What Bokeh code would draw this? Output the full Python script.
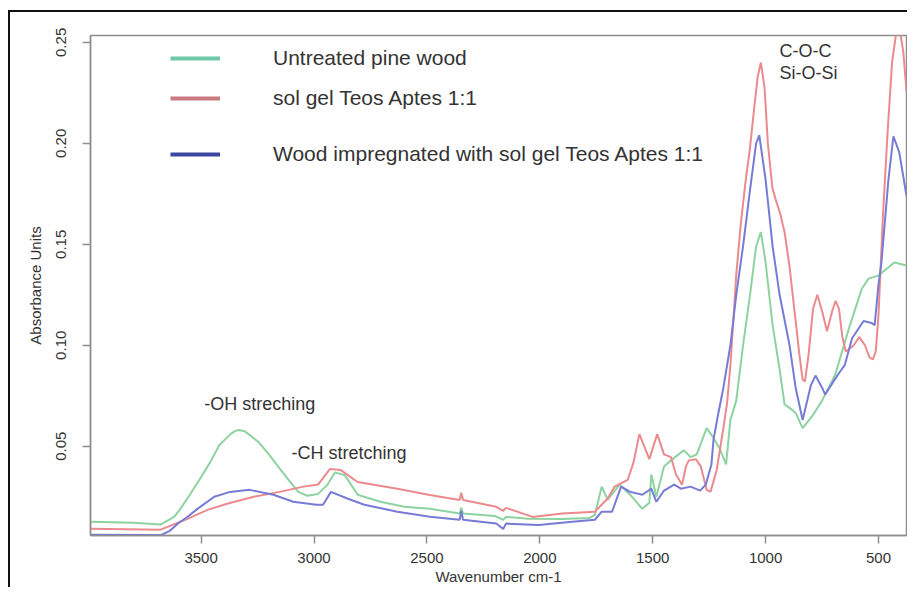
from bokeh.plotting import figure
from bokeh.models import (Range1d, Label, Legend, LegendItem,
                          FixedTicker, ColumnDataSource, InlineStyleSheet)
from bokeh.embed import file_html
from bokeh.resources import INLINE

# ---------------- data ----------------
green_wn = [3990, 3800, 3680, 3620, 3595, 3550, 3507, 3460, 3420, 3370,
            3350, 3334, 3310, 3290, 3245, 3200, 3157, 3110, 3070, 3030,
            2982, 2940, 2908, 2864, 2830, 2807, 2706, 2600, 2487, 2355,
            2348, 2340, 2200, 2162, 2150, 2050, 1900, 1780, 1756, 1726,
            1699, 1647, 1600, 1546, 1515, 1506, 1484, 1450, 1419, 1362,
            1332, 1305, 1261, 1230, 1200, 1175, 1156, 1130, 1100, 1069,
            1042, 1021, 1000, 969, 938, 916, 894, 867, 836, 793,
            750, 692, 632, 574, 544, 500, 430, 376]
green_ab = [0.0126, 0.0121, 0.0112, 0.0150, 0.0185, 0.026, 0.0335, 0.042, 0.0505, 0.056,
            0.0575, 0.058, 0.0576, 0.056, 0.052, 0.046, 0.0397, 0.033, 0.0274, 0.0255,
            0.0264, 0.031, 0.037, 0.0357, 0.030, 0.026, 0.0225, 0.020, 0.019, 0.0167,
            0.0195, 0.0167, 0.0155, 0.0135, 0.0150, 0.0141, 0.0140, 0.0145, 0.016, 0.030,
            0.0235, 0.031, 0.026, 0.019, 0.022, 0.036, 0.025, 0.040, 0.043, 0.048,
            0.0446, 0.046, 0.059, 0.054, 0.048, 0.041, 0.063, 0.0726, 0.100, 0.125,
            0.149, 0.156, 0.141, 0.110, 0.088, 0.0707, 0.069, 0.0665, 0.059, 0.065,
            0.0726, 0.0853, 0.108, 0.128, 0.133, 0.1345, 0.141, 0.1395]

red_wn = [3990, 3680, 3560, 3472, 3385, 3267, 3152, 3047, 2982, 2930,
          2881, 2807, 2631, 2487, 2355, 2348, 2340, 2193, 2162, 2150,
          2032, 1900, 1756, 1700, 1669, 1611, 1585, 1559, 1515, 1480,
          1450, 1419, 1397, 1370, 1353, 1340, 1309, 1287, 1261, 1244,
          1217, 1187, 1170, 1156, 1143, 1130, 1110, 1090, 1070, 1050,
          1035, 1021, 1005, 990, 970, 955, 935, 916, 894, 870,
          850, 836, 826, 810, 790, 771, 750, 728, 705, 690,
          675, 660, 645, 630, 610, 585, 560, 540, 525, 512,
          500, 480, 460, 440, 420, 405, 390, 376]
red_ab = [0.0092, 0.0087, 0.014, 0.0185, 0.0215, 0.025, 0.0274, 0.030, 0.031, 0.0387,
          0.0382, 0.0323, 0.029, 0.0259, 0.0234, 0.027, 0.0234, 0.020, 0.018, 0.0195,
          0.015, 0.0167, 0.0176, 0.024, 0.030, 0.0333, 0.042, 0.056, 0.0436, 0.056,
          0.046, 0.0446, 0.036, 0.031, 0.040, 0.043, 0.0436, 0.040, 0.0284, 0.0275,
          0.038, 0.059, 0.072, 0.090, 0.112, 0.135, 0.160, 0.180, 0.197, 0.218,
          0.233, 0.240, 0.228, 0.200, 0.178, 0.172, 0.165, 0.156, 0.139, 0.115,
          0.095, 0.083, 0.082, 0.095, 0.118, 0.125, 0.117, 0.107, 0.117, 0.122,
          0.118, 0.104, 0.097, 0.098, 0.100, 0.104, 0.100, 0.094, 0.093, 0.097,
          0.115, 0.165, 0.205, 0.240, 0.256, 0.256, 0.245, 0.226]

blue_wn = [3990, 3680, 3640, 3600, 3560, 3516, 3442, 3372, 3285, 3180,
           3092, 2990, 2960, 2925, 2850, 2777, 2631, 2487, 2355, 2348,
           2340, 2193, 2162, 2150, 2005, 1856, 1756, 1726, 1680, 1640,
           1600, 1546, 1506, 1484, 1450, 1405, 1375, 1332, 1290, 1265,
           1240, 1231, 1210, 1187, 1156, 1130, 1100, 1069, 1042, 1028,
           1000, 969, 938, 894, 867, 836, 800, 779, 750, 736,
           700, 670, 650, 617, 566, 530, 517, 500, 487, 456,
           434, 408, 376]
blue_ab = [0.0062, 0.0060, 0.008, 0.012, 0.0151, 0.019, 0.025, 0.0274, 0.0284, 0.026,
           0.0225, 0.021, 0.021, 0.0274, 0.024, 0.021, 0.0176, 0.0151, 0.0136, 0.018,
           0.0136, 0.0117, 0.009, 0.0117, 0.011, 0.0126, 0.0136, 0.0176, 0.0176, 0.030,
           0.0274, 0.026, 0.029, 0.0225, 0.028, 0.031, 0.029, 0.030, 0.028, 0.031,
           0.041, 0.053, 0.066, 0.079, 0.100, 0.125, 0.149, 0.177, 0.200, 0.204,
           0.182, 0.149, 0.125, 0.100, 0.079, 0.063, 0.080, 0.085, 0.079, 0.0756,
           0.082, 0.087, 0.090, 0.1035, 0.112, 0.111, 0.110, 0.130, 0.141, 0.182,
           0.2035, 0.1955, 0.174]

series_names = ["Untreated pine wood",
                "sol gel Teos Aptes 1:1",
                "Wood impregnated with sol gel Teos Aptes 1:1"]

x_ticks = [500, 1000, 1500, 2000, 2500, 3000, 3500]
y_ticks = [0.05, 0.10, 0.15, 0.20, 0.25]
y_tick_labels = ["0.05", "0.10", "0.15", "0.20", "0.25"]

x_title = "Wavenumber cm-1"
y_title = "Absorbance Units"
annotations = ["-OH streching", "-CH stretching", "C-O-C", "Si-O-Si"]

# ---------------- figure ----------------
FONT = "Liberation Sans"
AXIS_GREY = "#8e8e8e"
TEXT = "#333333"

# outer black frame of the original picture (only its top and left edges show)
frame_css = InlineStyleSheet(css="""
:host { position: relative; }
:host::before {
  content: ''; position: absolute; box-sizing: border-box;
  left: 8px; top: 10px; width: 899px; height: 2px;
  background: #111; border: none; outline: none; box-shadow: none;
  pointer-events: none; z-index: 100;
}
:host::after {
  content: ''; position: absolute; box-sizing: border-box;
  left: 8px; top: 10px; width: 2px; height: 577px;
  background: #111; border: none; outline: none; box-shadow: none;
  pointer-events: none; z-index: 100;
}
""")

p = figure(width=907, height=587, output_backend="svg", toolbar_location=None,
           x_range=Range1d(3990, 376), y_range=Range1d(0.0058, 0.2534),
           min_border_left=90, min_border_right=1, min_border_top=35,
           min_border_bottom=52)
p.stylesheets = [frame_css]
p.background_fill_color = "white"
p.border_fill_color = "white"
p.grid.visible = False
p.outline_line_color = AXIS_GREY
p.outline_line_width = 1.5

p.xaxis.ticker = FixedTicker(ticks=x_ticks)
p.yaxis.ticker = FixedTicker(ticks=y_ticks)
p.yaxis.major_label_overrides = {t: l for t, l in zip(y_ticks, y_tick_labels)}
p.yaxis.major_label_orientation = "vertical"

for ax in (p.xaxis[0], p.yaxis[0]):
    ax.axis_line_color = AXIS_GREY
    ax.axis_line_width = 1.5
    ax.major_tick_line_color = AXIS_GREY
    ax.major_tick_line_width = 1.5
    ax.major_tick_out = 8
    ax.major_tick_in = 0
    ax.minor_tick_line_color = None
    ax.major_label_text_font = FONT
    ax.major_label_text_font_size = "15px"
    ax.major_label_text_color = TEXT
    ax.axis_label_text_font = FONT
    ax.axis_label_text_font_size = "15px"
    ax.axis_label_text_font_style = "normal"
    ax.axis_label_text_color = TEXT

p.xaxis.axis_label = x_title
p.yaxis.axis_label = y_title
p.xaxis.major_label_standoff = 9
p.xaxis.axis_label_standoff = 2
p.yaxis.major_label_standoff = 16
p.yaxis.axis_label_standoff = 10

# spectra
curve_colors = ["#8dd3a0", "#eb8a8d", "#777bd6"]
p.line(green_wn, green_ab, line_color=curve_colors[0], line_width=2)
p.line(red_wn, red_ab, line_color=curve_colors[1], line_width=2)
p.line(blue_wn, blue_ab, line_color=curve_colors[2], line_width=2)

# legend (three single-item legends, unevenly spaced like the reference)
legend_colors = ["#6fc9a8", "#c97b80", "#3d46a0"]
legend_pos = [(80, 465), (80, 425), (80, 369)]
for name, col, pos in zip(series_names, legend_colors, legend_pos):
    src = ColumnDataSource(data=dict(x=[float("nan")], y=[float("nan")]))
    r = p.line("x", "y", source=src, line_color=col, line_width=4)
    lg = Legend(items=[LegendItem(label=name, renderers=[r])], location=pos,
                border_line_color=None, background_fill_alpha=0,
                padding=0, margin=0, glyph_width=50, glyph_height=24,
                label_height=24, label_standoff=53,
                label_text_font=FONT, label_text_font_size="21px",
                label_text_color=TEXT)
    p.add_layout(lg)

# text annotations
ann_pos = [(3486, 0.0711), (3100, 0.0468), (938, 0.2455), (938, 0.2349)]
for txt, (ax_, ay_) in zip(annotations, ann_pos):
    p.add_layout(Label(x=ax_, y=ay_, text=txt, text_baseline="middle",
                       text_align="left", text_font=FONT,
                       text_font_size="18px", text_color=TEXT))

open("out.html", "w").write(file_html(p, INLINE, "FTIR spectra"))
